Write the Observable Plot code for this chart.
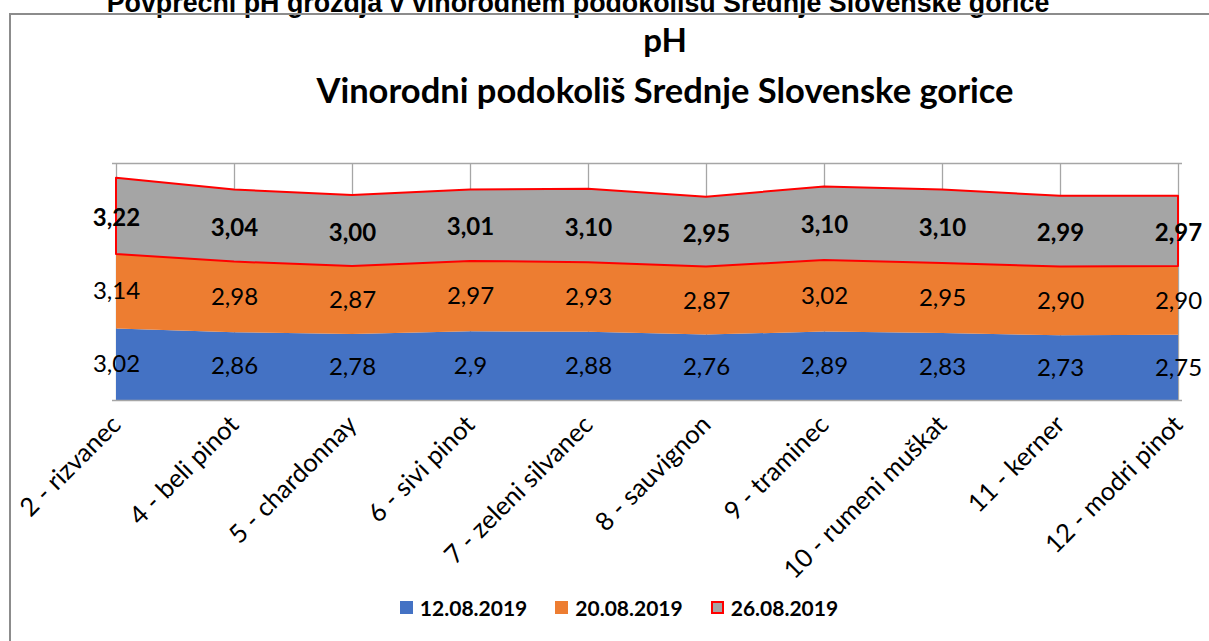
<!DOCTYPE html>
<html>
<head>
<meta charset="utf-8">
<script src="https://cdn.jsdelivr.net/npm/d3@7"></script>
<script src="https://cdn.jsdelivr.net/npm/@observablehq/plot@0.6"></script>
<style>
  html, body { margin: 0; padding: 0; background: #fff; }
  body { width: 1209px; height: 641px; overflow: hidden; position: relative; }
  .toptitle { position: absolute; left: 0; width: 1156px; top: -12px; text-align: center;
    font-family: "Liberation Sans", Arial, sans-serif; font-weight: bold; font-size: 26.8px; color: #000; white-space: nowrap; line-height: 1.15; }
  .frame { position: absolute; left: 9px; top: 13px; width: 1400px; height: 800px;
    border-left: 2px solid #8c8c8c; border-top: 2px solid #8c8c8c; }
  .title { position: absolute; left: 0; width: 1330px; text-align: center; font-family: Lato, sans-serif;
    font-weight: bold; color: #000; white-space: nowrap; line-height: 1.2; }
  #chart { position: absolute; left: 0; top: 150px; }
  .legend { position: absolute; left: 0; width: 1238px; top: 595px; display: flex; justify-content: center;
    font-family: Lato, sans-serif; font-weight: bold; font-size: 21px; color: #000; }
  .legend .item { display: flex; align-items: center; margin: 0 14px; }
  .legend .sw { width: 13px; height: 13px; margin-right: 7px; box-sizing: border-box; }
</style>
</head>
<body>
<div class="toptitle">Povprečni pH grozdja  v vinorodnem podokolišu Srednje Slovenske gorice</div>
<div class="frame"></div>
<div class="title" style="top:20px;font-size:33px;">pH</div>
<div class="title" style="top:69px;font-size:34.5px;">Vinorodni podokoliš Srednje Slovenske gorice</div>
<div id="chart"></div>
<div class="legend" id="legend"></div>
<script>
const categories = ["2 - rizvanec", "4 - beli pinot", "5 - chardonnay", "6 - sivi pinot", "7 - zeleni silvanec",
  "8 - sauvignon", "9 - traminec", "10 - rumeni muškat", "11 - kerner", "12 - modri pinot"];
const series = ["12.08.2019", "20.08.2019", "26.08.2019"];
const values1208 = [3.02, 2.86, 2.78, 2.9, 2.88, 2.76, 2.89, 2.83, 2.73, 2.75];
const values2008 = [3.14, 2.98, 2.87, 2.97, 2.93, 2.87, 3.02, 2.95, 2.90, 2.90];
const values2608 = [3.22, 3.04, 3.00, 3.01, 3.10, 2.95, 3.10, 3.10, 2.99, 2.97];
const colors = ["#4472c4", "#ed7d31", "#a5a5a5"];

const seriesValues = [values1208, values2008, values2608];
const data = series.flatMap((s, i) => seriesValues[i].map((v, j) => ({
  category: categories[j], series: s, value: v,
  label: (i === 0 ? String(v) : v.toFixed(2)).replace(".", ",")
})));
const last = series[2];
const grid = "#a6a6a6";

const chart = Plot.plot({
  width: 1209, height: 440,
  marginLeft: 112, marginRight: 27, marginTop: 13, marginBottom: 190,
  x: {type: "point", domain: categories, padding: 0, label: null},
  y: {domain: [0, 10], axis: null},
  color: {domain: series, range: colors},
  opacity: {domain: [0, 1], range: [0, 1]},
  style: {fontFamily: "Lato, sans-serif", fontSize: "24px", color: "#000", background: "transparent"},
  marks: [
    Plot.gridX(categories, {stroke: grid, strokeOpacity: 1, strokeWidth: 1.3}),
    Plot.ruleY([10], {stroke: grid, strokeWidth: 1.3}),
    Plot.areaY(data, Plot.stackY({x: "category", y: "value", z: "series", fill: "series"})),
    Plot.areaY(data, Plot.stackY({x: "category", y: "value", z: "series", fill: "none",
      stroke: "#ff0000", strokeWidth: 2, strokeOpacity: d => d.series === last ? 1 : 0})),
    Plot.ruleY([0], {stroke: grid, strokeWidth: 1.3}),
    Plot.axisX({tickRotate: -45, tickSize: 0, tickPadding: 20, fontSize: 25.5, label: null, fill: "#000"}),
    Plot.text(data, Plot.stackY({x: "category", y: "value", z: "series",
      text: d => d.series === last ? "" : d.label, fontSize: 24, fill: "#000"})),
    Plot.text(data, Plot.stackY({x: "category", y: "value", z: "series",
      text: d => d.series === last ? d.label : "", fontSize: 24, fontWeight: "bold", fill: "#000", dy: 2}))
  ]
});
document.getElementById("chart").appendChild(chart);

const legend = document.getElementById("legend");
series.forEach((s, i) => {
  const item = document.createElement("div");
  item.className = "item";
  const sw = document.createElement("div");
  sw.className = "sw";
  sw.style.background = colors[i];
  if (s === last) sw.style.border = "2px solid #ff0000";
  const t = document.createElement("span");
  t.textContent = s;
  item.appendChild(sw); item.appendChild(t);
  legend.appendChild(item);
});
</script>
</body>
</html>
